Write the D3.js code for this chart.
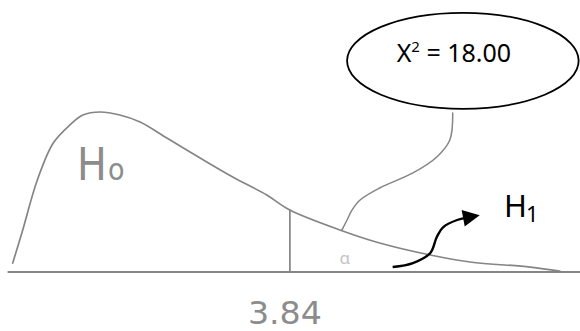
<!DOCTYPE html>
<html lang="en">
<head>
<meta charset="UTF-8">
<title>Chi-square test sketch</title>
<script src="https://d3js.org/d3.v7.min.js"></script>
<style>
body {
  margin: 0px;
  overflow: hidden;
  background: #fff;
}
text {
  font-family: "Noto Sans", sans-serif;
}
.sketch {
  fill: none;
  stroke: #858585;
  stroke-linecap: round;
}
.hand {
  font-family: "DejaVu Sans Condensed", "DejaVu Sans", sans-serif;
  fill: #8c8c8c;
}
</style>
</head>
<body>
<svg width="580" height="331"></svg>
<script>
// chi-square density as drawn (x in chi-square units, y relative height)
const curveX = [0.01, 0.14, 0.35, 0.57, 0.80, 0.98, 1.22, 1.49, 1.77, 2.14, 2.60, 3.05, 3.52, 3.84, 4.53, 5.08, 5.78, 6.33, 7.16, 7.57];
const curveY = [0.056, 0.25, 0.575, 0.806, 0.919, 0.981, 1.0, 0.981, 0.9375, 0.8375, 0.7125, 0.594, 0.481, 0.387, 0.2625, 0.181, 0.106, 0.0625, 0.031, 0.006];

// critical value and the height of the curve there
const critical = 3.84;
const criticalY = 0.387;

// callout from the test statistic bubble down into the tail
const calloutX = [6.09, 6.05, 5.87, 5.54, 5.08, 4.81, 4.70, 4.63, 4.56];
const calloutY = [0.994, 0.825, 0.719, 0.619, 0.525, 0.45, 0.388, 0.325, 0.263];

// arrow pointing at H1
const arrowX = [5.26, 5.54, 5.78, 5.87, 5.96, 6.15, 6.28];
const arrowY = [0.031, 0.056, 0.119, 0.219, 0.281, 0.325, 0.34];

// bubble centre and half sizes
const bubble = { x: 6.23, y: 1.32, rx: 1.6, ry: 0.3 };

const labels = { stat: '18.00', crit: '3.84', h0: ['H', 'o'], h1: ['H', '1'] };

const svg = d3.select('svg');
const width = +svg.attr('width');
const height = +svg.attr('height');

const xScale = d3.scaleLinear().domain([0, 7.6]).range([12, 562]);
const yScale = d3.scaleLinear().domain([0, 1]).range([272, 112]);

const line = d3.line()
  .x(d => xScale(d[0]))
  .y(d => yScale(d[1]))
  .curve(d3.curveCatmullRom);

svg.append('rect')
  .attr('width', width)
  .attr('height', height)
  .attr('fill', '#fff');

// baseline
svg.append('line')
  .attr('class', 'sketch')
  .attr('x1', xScale(-0.05))
  .attr('x2', xScale(7.85))
  .attr('y1', yScale(0))
  .attr('y2', yScale(0))
  .attr('stroke-width', 2);

// density curve
svg.append('path')
  .attr('class', 'sketch')
  .attr('d', line(d3.zip(curveX, curveY)))
  .attr('stroke-width', 1.7);

// critical value line
svg.append('line')
  .attr('class', 'sketch')
  .attr('x1', xScale(critical))
  .attr('x2', xScale(critical))
  .attr('y1', yScale(criticalY))
  .attr('y2', yScale(0))
  .attr('stroke-width', 1.7);

// callout line
svg.append('path')
  .attr('class', 'sketch')
  .attr('d', line(d3.zip(calloutX, calloutY)))
  .attr('stroke', '#9a9a9a')
  .attr('stroke-width', 1.5);

// bubble
svg.append('ellipse')
  .attr('cx', xScale(bubble.x))
  .attr('cy', yScale(bubble.y))
  .attr('rx', xScale(bubble.rx) - xScale(0))
  .attr('ry', yScale(0) - yScale(bubble.ry))
  .attr('fill', '#fff')
  .attr('stroke', '#000')
  .attr('stroke-width', 1.8);

const stat = svg.append('text')
  .attr('x', xScale(bubble.x) - 9)
  .attr('y', yScale(bubble.y) + 1)
  .attr('text-anchor', 'middle')
  .attr('font-size', 25)
  .attr('fill', '#000');
stat.append('tspan').text('X');
stat.append('tspan').attr('font-size', 15).attr('dy', -10).text('2');
stat.append('tspan').attr('dy', 10).text(' = ' + labels.stat);

// arrow
const defs = svg.append('defs');
defs.append('marker')
  .attr('id', 'head')
  .attr('viewBox', '0 0 10 10')
  .attr('refX', 2)
  .attr('refY', 5)
  .attr('markerWidth', 8)
  .attr('markerHeight', 7)
  .attr('markerUnits', 'strokeWidth')
  .attr('orient', 'auto')
  .append('path')
  .attr('d', 'M0,0L10,5L0,10Z')
  .attr('fill', '#000');

svg.append('path')
  .attr('d', line(d3.zip(arrowX, arrowY)))
  .attr('fill', 'none')
  .attr('stroke', '#000')
  .attr('stroke-width', 2.4)
  .attr('marker-end', 'url(#head)');

// H1 label
svg.append('text')
  .attr('x', 504)
  .attr('y', 217)
  .attr('font-size', 31)
  .attr('fill', '#000')
  .text(labels.h1[0]);
svg.append('text')
  .attr('x', 526)
  .attr('y', 222)
  .attr('font-size', 22)
  .attr('fill', '#000')
  .text(labels.h1[1]);

// H0 label, hand written look
svg.append('text')
  .attr('class', 'hand')
  .attr('x', 77)
  .attr('y', 180)
  .attr('font-size', 44)
  .text(labels.h0[0]);
svg.append('text')
  .attr('class', 'hand')
  .attr('x', 108)
  .attr('y', 180)
  .attr('font-size', 30)
  .text(labels.h0[1]);

// small alpha mark in the tail
svg.append('text')
  .attr('x', xScale(4.6))
  .attr('y', 264)
  .attr('text-anchor', 'middle')
  .attr('font-size', 17)
  .attr('fill', '#c4c4c4')
  .text('α');

// critical value label
svg.append('text')
  .attr('class', 'hand')
  .attr('x', xScale(critical) - 5)
  .attr('y', 323.5)
  .attr('text-anchor', 'middle')
  .attr('font-size', 32)
  .attr('textLength', 74)
  .attr('lengthAdjust', 'spacingAndGlyphs')
  .text(labels.crit);
</script>
</body>
</html>
